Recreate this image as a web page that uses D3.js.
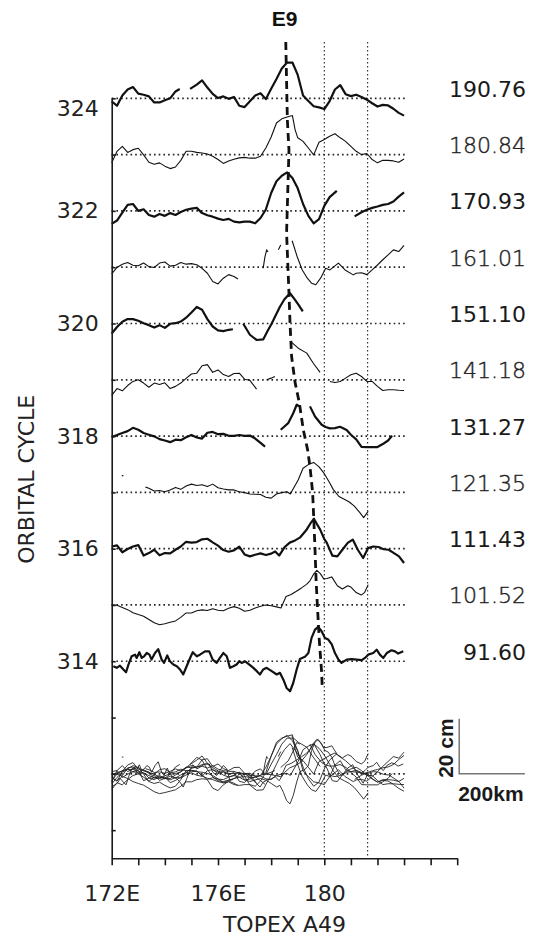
<!DOCTYPE html>
<html>
<head>
<meta charset="utf-8">
<script src="https://cdn.jsdelivr.net/npm/d3@7"></script>
<style>
  body { margin: 0; background: #fff; }
  svg { display: block; }
  .ax text { font-family: "DejaVu Sans", sans-serif; font-size: 22px; fill: #222; }
  .ax path, .ax line { stroke: #1a1a1a; stroke-width: 1.6; }
</style>
</head>
<body>
<div id="chart"></div>
<script>
// cycles stacked top to bottom, with the day label on the right
const cycles = [324, 323, 322, 321, 320, 319, 318, 317, 316, 315, 314]
const dayLabels = ["190.76", "180.84", "170.93", "161.01", "151.10", "141.18", "131.27", "121.35", "111.43", "101.52", "91.60"]
const overlayCycle = 312
const xTickLabels = {172: "172E", 176: "176E", 180: "180"}
const refLons = [180, 181.63]

// sea level anomaly profiles, [longitude, cm]; null = data gap
const c324 = [[172.0,-1.1],[172.2,-2.7],[172.4,1.0],[172.6,3.2],[172.8,4.1],[173.0,1.7],[173.2,1.3],[173.4,0.7],[173.6,-1.5],[173.8,-1.5],[174.0,-0.7],[174.2,0],[174.4,2.5],[174.56,3.4],[174.7,null],[174.95,3.4],[175.2,5.0],[175.4,6.5],[175.6,3.9],[175.8,1.6],[176.0,0.1],[176.2,0.7],[176.4,-0.2],[176.6,0.5],[176.8,-2.7],[177.0,-3.2],[177.2,-1.1],[177.4,1.0],[177.6,1.8],[177.8,-0.3],[178.0,3.5],[178.2,7.0],[178.4,10.8],[178.6,13.0],[178.8,13.0],[179.0,8.5],[179.2,1.0],[179.4,-1.0],[179.6,-2.9],[179.8,-3.3],[180.0,-3.9],[180.2,-1.0],[180.4,3.2],[180.6,4.8],[180.8,1.5],[181.0,0.8],[181.2,1.3],[181.4,0.5],[181.6,-0.5],[181.8,-1.8],[182.0,-3.0],[182.2,-2.4],[182.4,-2.6],[182.6,-3.8],[182.8,-5.3],[183.0,-6.3]]
const c323 = [[172.0,-3.0],[172.2,1.2],[172.4,3.0],[172.6,0.8],[172.8,1.8],[173.0,2.3],[173.2,-0.1],[173.4,-2.8],[173.6,-3.5],[173.8,-3.0],[174.0,-4.2],[174.2,-5.1],[174.4,-4.5],[174.6,-2.1],[174.8,1.2],[175.0,1.2],[175.2,0.8],[175.4,0.6],[175.6,0.2],[175.8,-0.6],[176.0,-1.8],[176.2,-3.2],[176.4,-2.3],[176.6,-1.7],[176.8,-1.2],[177.0,-1.0],[177.2,-1.3],[177.4,-1.3],[177.6,-0.6],[177.8,2.4],[178.0,6.4],[178.2,11.5],[178.4,13.0],[178.6,13.7],[178.8,14.2],[178.9,9.1],[179.0,6.1],[179.2,4.8],[179.4,2.4],[179.6,-0.1],[179.8,4.5],[180.0,5.5],[180.2,6.7],[180.4,7.6],[180.6,6.1],[180.8,4.8],[181.0,3.0],[181.2,1.2],[181.4,0],[181.6,0.4],[181.8,-1.8],[182.0,-3.0],[182.2,-2.1],[182.4,-2.1],[182.6,-2.3],[182.8,-2.8],[183.0,-1.6]]
const c322 = [[172.0,-4.7],[172.2,-3.5],[172.4,-0.6],[172.6,2.2],[172.8,2.5],[173.0,0],[173.2,0.6],[173.4,-1.5],[173.6,-2.1],[173.8,-1.1],[174.0,-1.8],[174.2,-0.8],[174.4,-1.5],[174.6,-0.4],[174.8,0.4],[175.0,0.8],[175.2,1.1],[175.4,-0.8],[175.6,-1.6],[175.8,-2.1],[176.0,-2.8],[176.2,-3.3],[176.4,-2.9],[176.6,-3.9],[176.8,-4.2],[177.0,-3.9],[177.2,-3.9],[177.4,-4.5],[177.6,-2.6],[177.8,0.5],[178.0,6.5],[178.2,10.8],[178.4,12.8],[178.6,14.0],[178.8,12.0],[179.0,8.2],[179.2,2.5],[179.4,-1.8],[179.6,-4.5],[179.8,-3.0],[180.0,1.8],[180.2,5.0],[180.47,7.3],[180.6,null],[181.14,-2.0],[181.4,-0.5],[181.6,0.4],[181.8,1.1],[182.0,1.6],[182.2,2.2],[182.4,2.5],[182.6,3.4],[182.8,5.2],[183.0,6.7]]
const c321 = [[172.0,-2.4],[172.2,-0.1],[172.4,1.1],[172.6,1.7],[172.8,0.7],[173.0,0.5],[173.2,1.5],[173.4,0.2],[173.6,-0.1],[173.8,1.5],[174.0,1.9],[174.2,0.4],[174.4,0.7],[174.6,1.7],[174.8,1.1],[175.0,1.3],[175.2,0.9],[175.4,-0.4],[175.6,-2.2],[175.8,-5.2],[176.0,-6.1],[176.2,-4.0],[176.4,-2.7],[176.6,-3.4],[176.75,-4.3],[176.8,null],[177.70,-0.4],[177.76,3.5],[177.83,6.3],[177.88,5.5],[177.9,null],[178.27,6.3],[178.36,8.1],[178.4,null],[178.79,9.6],[178.98,3.8],[179.17,-1.0],[179.36,-4.0],[179.52,-5.8],[179.68,-6.4],[179.86,-4.0],[180.05,-0.4],[180.21,-1.0],[180.53,1.5],[180.78,-1.0],[181.09,-2.8],[181.2,-2.2],[181.4,-2.0],[181.6,-2.7],[181.8,-1.0],[182.0,0.8],[182.2,2.7],[182.4,4.5],[182.6,6.3],[182.8,5.7],[183.0,7.9]]
const c320 = [[172.0,-3.7],[172.2,-1.3],[172.4,0.6],[172.6,1.6],[172.8,1.6],[173.0,1.0],[173.2,0.1],[173.4,-0.6],[173.6,-1.5],[173.8,-0.6],[174.0,-1.6],[174.2,-0.1],[174.4,0.1],[174.6,0.7],[174.8,2.1],[175.0,4.0],[175.2,6.0],[175.4,5.0],[175.6,1.6],[175.8,-1.1],[176.0,-2.5],[176.2,-2.8],[176.4,-2.3],[176.56,-2.1],[176.7,null],[176.95,-0.1],[177.2,-4.1],[177.45,-6.0],[177.7,-5.8],[177.85,-3.0],[178.02,0],[178.2,3.5],[178.33,6.1],[178.5,8.8],[178.71,11.0],[178.9,8.6],[179.05,6.5],[179.19,4.4]]
const c319 = [[172.0,-5.7],[172.2,-3.2],[172.4,-4.0],[172.6,-2.1],[172.8,-0.6],[173.0,0],[173.2,-1.2],[173.4,-2.7],[173.6,-1.2],[173.8,-1.7],[174.0,-1.1],[174.2,-3.2],[174.4,-2.4],[174.6,-1.2],[174.8,0.5],[175.0,2.1],[175.2,2.4],[175.4,5.1],[175.6,5.5],[175.8,2.7],[176.0,3.6],[176.2,1.9],[176.4,1.2],[176.6,2.3],[176.8,2.4],[177.0,0.2],[177.2,-0.2],[177.45,-3.4],[177.5,null],[177.83,0],[178.0,0.6],[178.14,1.2],[178.2,null],[178.77,13.6],[179.02,11.5],[179.34,9.7],[179.58,6.1],[179.84,2.7],[179.9,null],[180.21,-0.6],[180.4,-1.0],[180.6,-0.6],[180.8,0.6],[181.0,1.8],[181.2,2.4],[181.4,1.2],[181.6,-0.6],[181.8,-0.6],[182.0,-2.4],[182.2,-3.9],[182.4,-3.6],[182.6,-3.6],[182.8,-3.8],[183.0,-3.9]]
const c318 = [[172.0,-0.4],[172.2,0.4],[172.4,1.1],[172.6,1.8],[172.8,3.0],[173.0,2.3],[173.2,1.1],[173.4,0.5],[173.6,-0.1],[173.8,-1.1],[174.0,-1.6],[174.2,-2.2],[174.4,-1.3],[174.6,-1.5],[174.8,-0.4],[175.0,0.4],[175.2,-0.5],[175.4,-0.9],[175.6,1.2],[175.8,1.5],[176.0,0.7],[176.2,0.8],[176.4,0.1],[176.6,0.1],[176.8,0.4],[177.0,0.1],[177.2,0.2],[177.4,-0.9],[177.6,-2.5],[177.77,-3.8],[177.9,null],[178.36,2.3],[178.5,3.5],[178.64,4.7],[178.83,8.3],[178.96,11.4],[179.08,10.8],[179.2,null],[179.46,10.8],[179.65,7.1],[179.9,4.1],[180.05,3.3],[180.21,2.8],[180.4,2.9],[180.59,3.4],[180.84,2.2],[181.0,0.5],[181.2,-1.2],[181.4,-3.9],[181.6,-4.0],[181.8,-4.0],[182.0,-4.0],[182.2,-2.9],[182.4,-1.6],[182.55,0.1]]
const c317 = [[172.38,6.1],[172.44,6.1],[172.5,null],[173.27,1.9],[173.4,1.5],[173.6,0.5],[173.8,0.7],[174.0,0.2],[174.2,0.9],[174.4,1.8],[174.6,1.1],[174.8,2.3],[175.0,3.0],[175.2,2.5],[175.4,2.8],[175.6,2.1],[175.8,3.0],[176.0,1.7],[176.2,1.2],[176.4,0.9],[176.6,0.9],[176.8,0.2],[177.0,-0.1],[177.2,-0.6],[177.4,-0.7],[177.6,-0.8],[177.8,-1.8],[178.0,-2.1],[178.2,-0.6],[178.4,-0.1],[178.6,0.2],[178.72,-0.6],[178.9,2.5],[179.02,4.6],[179.2,8.8],[179.4,10.1],[179.6,10.9],[179.8,9.3],[180.0,6.8],[180.2,3.5],[180.34,1.0],[180.55,-1.5],[180.75,-2.5],[180.94,-3.5],[181.13,-5.0],[181.33,-7.3],[181.48,-9.2],[181.65,-6.9]]
const c316 = [[172.0,0.8],[172.2,1.2],[172.4,-1.3],[172.6,-0.1],[172.8,0.8],[173.0,1.3],[173.2,-2.5],[173.4,-1.6],[173.6,-0.4],[173.8,-2.4],[174.0,-1.6],[174.2,-1.7],[174.4,-0.4],[174.6,0.8],[174.8,2.5],[175.0,2.2],[175.2,2.4],[175.4,3.4],[175.6,3.6],[175.8,2.3],[176.0,1.1],[176.2,-0.5],[176.4,-1.1],[176.6,-0.6],[176.8,0.7],[177.0,-2.1],[177.2,-2.8],[177.4,-2.2],[177.6,-1.7],[177.8,-2.3],[178.0,-1.8],[178.15,-1.0],[178.3,-2.5],[178.5,0.5],[178.7,2.2],[178.9,3.0],[179.08,4.0],[179.34,7.0],[179.5,9.5],[179.61,10.9],[179.72,9.0],[179.84,7.0],[180.0,3.5],[180.09,2.2],[180.3,-2.5],[180.49,-2.8],[180.68,-0.4],[180.88,2.1],[181.07,3.3],[181.26,-0.4],[181.46,-3.4],[181.65,0.2],[181.84,0.8],[182.04,0.6],[182.23,-0.2],[182.42,-0.4],[182.62,-1.6],[182.81,-2.8],[183.0,-5.2]]
const c315 = [[172.0,0.1],[172.2,-0.1],[172.4,-0.9],[172.6,-1.7],[172.8,-2.8],[173.0,-3.5],[173.2,-4.1],[173.4,-5.3],[173.6,-6.5],[173.8,-7.2],[174.0,-6.8],[174.2,-6.3],[174.4,-5.8],[174.6,-4.5],[174.8,-2.9],[175.0,-2.9],[175.2,-2.1],[175.4,-1.8],[175.6,-2.0],[175.8,-1.4],[176.0,-1.9],[176.2,-2.1],[176.4,-1.2],[176.6,-0.6],[176.8,-1.2],[177.0,-2.3],[177.2,-1.9],[177.4,-1.1],[177.6,-0.5],[177.8,0],[178.0,-0.3],[178.2,-0.7],[178.37,-1.1],[178.56,3.1],[178.75,3.8],[178.95,5.0],[179.14,6.2],[179.33,7.5],[179.46,8.8],[179.59,11.1],[179.72,12.6],[179.85,11.4],[179.98,9.5],[180.1,9.6],[180.28,10.2],[180.49,7.0],[180.68,5.8],[180.88,7.0],[181.0,6.5],[181.2,4.5],[181.39,3.6],[181.52,4.6],[181.65,7.4]]
const c314 = [[172.06,-1.8],[172.19,-2.4],[172.31,-1.6],[172.44,-3.0],[172.54,-4.0],[172.63,-1.2],[172.75,1.8],[172.88,2.4],[172.94,1.2],[173.04,3.3],[173.13,1.2],[173.22,1.8],[173.32,3.0],[173.42,2.4],[173.5,0.6],[173.63,3.0],[173.75,4.4],[173.88,0.6],[173.97,-0.6],[174.09,2.1],[174.19,0],[174.32,-1.2],[174.45,-1.8],[174.57,-3.0],[174.69,-4.8],[174.82,-1.8],[174.95,1.2],[175.05,3.3],[175.2,1.8],[175.32,2.4],[175.51,3.6],[175.67,3.6],[175.8,0.6],[175.95,-0.6],[176.07,1.2],[176.2,3.0],[176.33,1.8],[176.45,-2.4],[176.58,-1.8],[176.7,-1.2],[176.8,0],[176.89,-0.6],[177.02,0],[177.18,-1.2],[177.33,-2.4],[177.46,-3.6],[177.58,-4.8],[177.7,-3.0],[177.83,-2.4],[178.02,-3.6],[178.21,-4.8],[178.33,-4.2],[178.46,-6.7],[178.58,-9.7],[178.71,-10.9],[178.83,-7.9],[178.96,-3.0],[179.08,0.8],[179.27,1.6],[179.4,3.0],[179.52,8.5],[179.65,11.5],[179.77,12.5],[179.9,10.9],[180.02,8.5],[180.15,7.9],[180.28,6.1],[180.4,3.0],[180.53,0.6],[180.65,-0.6],[180.84,0.6],[181.03,0.8],[181.22,0.6],[181.41,0.4],[181.53,1.2],[181.65,2.4],[181.84,3.0],[181.97,4.2],[182.09,2.4],[182.22,1.2],[182.35,3.0],[182.53,4.0],[182.66,3.6],[182.78,2.8],[182.97,3.6]]
const profiles = [c324, c323, c322, c321, c320, c319, c318, c317, c316, c315, c314]

// eddy E9 track, [longitude, cycle]
const e9Track = [[178.55,325.0],[178.61,323.61],[178.67,323.08],[178.58,321.61],[178.67,320.54],[178.71,320.0],[178.77,319.41],[178.90,318.95],[179.06,318.59],[179.21,318.11],[179.37,317.76],[179.46,317.46],[179.56,317.0],[179.61,316.46],[179.65,315.98],[179.69,315.45],[179.74,314.98],[179.81,314.38],[179.90,313.80],[179.92,313.56]]

const width = 537, height = 936
const textFont = "'DejaVu Sans', sans-serif"
const boldFont = "'Liberation Sans', Arial, sans-serif"

const svg = d3.select("#chart").append("svg")
	.attr("width", width)
	.attr("height", height)

const x = d3.scaleLinear().domain([172, 185]).range([111.7, 457.2])
const y = d3.scaleLinear().domain([310.5, 324]).range([858.3, 98.3])
// 20 cm of sea level = 55 px
const cm = d3.scaleLinear().domain([0, 20]).range([0, 55])

const profileLine = base => d3.line()
	.defined(d => d[1] !== null)
	.x(d => x(d[0]))
	.y(d => y(base) - cm(d[1]))

// dotted baselines
svg.append("g").selectAll("line")
	.data(cycles.concat([overlayCycle]))
	.enter().append("line")
	.attr("x1", x(172)).attr("x2", x(183.13))
	.attr("y1", d => y(d)).attr("y2", d => y(d))
	.attr("stroke", "#222").attr("stroke-width", 1.7)
	.attr("stroke-dasharray", "1.6,3.1")

// dotted reference meridians
svg.append("g").selectAll("line")
	.data(refLons)
	.enter().append("line")
	.attr("x1", d => x(d)).attr("x2", d => x(d))
	.attr("y1", y(325)).attr("y2", y(310.5))
	.attr("stroke", "#222").attr("stroke-width", 1.1)
	.attr("stroke-dasharray", "1.4,2.6")

// stacked profiles, thick for even cycles
svg.append("g").selectAll("path")
	.data(profiles)
	.enter().append("path")
	.attr("d", (d, i) => profileLine(cycles[i])(d))
	.attr("fill", "none")
	.attr("stroke", "#111")
	.attr("stroke-width", (d, i) => i % 2 === 0 ? 2.2 : 1.1)
	.attr("stroke-linejoin", "round")

// all profiles overlaid on cycle 312
svg.append("g").selectAll("path")
	.data(profiles)
	.enter().append("path")
	.attr("d", d => profileLine(overlayCycle)(d))
	.attr("fill", "none")
	.attr("stroke", "#222")
	.attr("stroke-width", 0.9)

// E9 track
svg.append("path")
	.attr("d", d3.line().x(d => x(d[0])).y(d => y(d[1]))(e9Track))
	.attr("fill", "none")
	.attr("stroke", "#111")
	.attr("stroke-width", 2.8)
	.attr("stroke-dasharray", "8,5")

svg.append("text")
	.attr("x", x(178.51)).attr("y", y(325) - 16)
	.attr("text-anchor", "middle")
	.style("font-family", boldFont)
	.style("font-weight", "bold").style("font-size", "21px")
	.attr("fill", "#111")
	.text("E9")

// day labels, the thin-profile rows in a lighter face
svg.append("g").selectAll("text")
	.data(dayLabels)
	.enter().append("text")
	.attr("x", 526)
	.attr("y", (d, i) => y(cycles[i]) - 1.5)
	.attr("text-anchor", "end")
	.style("font-family", textFont)
	.style("font-size", "22px")
	.style("font-weight", (d, i) => i % 2 === 0 ? 400 : 200)
	.attr("fill", (d, i) => i % 2 === 0 ? "#1a1a1a" : "#222")
	.attr("stroke", (d, i) => i % 2 === 0 ? "none" : "#222")
	.attr("stroke-width", 0.4)
	.text(d => d)

// axes
const yAxis = svg.append("g")
	.attr("class", "ax")
	.attr("transform", "translate(" + x(172) + ",0)")
	.call(d3.axisLeft(y)
		.tickValues(d3.range(311, 325))
		.tickFormat(d => (d % 2 === 0 && d >= 314) ? d : "")
		.tickSizeInner(-4).tickSizeOuter(0).tickPadding(13))
yAxis.selectAll(".tick text").filter(d => d === 324).attr("dy", "0.76em")

svg.append("g")
	.attr("class", "ax")
	.attr("transform", "translate(0," + y(310.5) + ")")
	.call(d3.axisBottom(x)
		.tickValues(d3.range(172, 186))
		.tickFormat(d => xTickLabels[d] || "")
		.tickSizeInner(7).tickSizeOuter(0).tickPadding(20))

svg.append("text")
	.attr("x", (x(172) + x(185)) / 2).attr("y", 931.5)
	.attr("text-anchor", "middle")
	.style("font-family", textFont).style("font-size", "22px")
	.attr("fill", "#222")
	.text("TOPEX A49")

svg.append("text")
	.attr("transform", "translate(34," + ((y(310.5) + y(324)) / 2 + 1) + ") rotate(-90)")
	.attr("text-anchor", "middle")
	.style("font-family", textFont).style("font-size", "22px")
	.attr("fill", "#222")
	.text("ORBITAL CYCLE")

// scale bar: 20 cm vertical, 200 km horizontal (about 2.47 deg along track)
const barX = x(185) + 2
const barY = y(overlayCycle)
const barW = x(172 + 2.47) - x(172)
svg.append("path")
	.attr("d", "M" + barX + "," + (barY - cm(20)) + "V" + barY + "H" + (barX + barW))
	.attr("fill", "none").attr("stroke", "#777").attr("stroke-width", 1.5)

svg.append("text")
	.attr("transform", "translate(" + (barX - 6) + "," + (barY + 4) + ") rotate(-90)")
	.style("font-family", boldFont)
	.style("font-weight", "bold").style("font-size", "21px")
	.attr("fill", "#1a1a1a")
	.text("20 cm")

svg.append("text")
	.attr("x", barX - 1).attr("y", barY + 27.5)
	.style("font-family", boldFont)
	.style("font-weight", "bold").style("font-size", "21px")
	.attr("fill", "#1a1a1a")
	.text("200km")
</script>
</body>
</html>
